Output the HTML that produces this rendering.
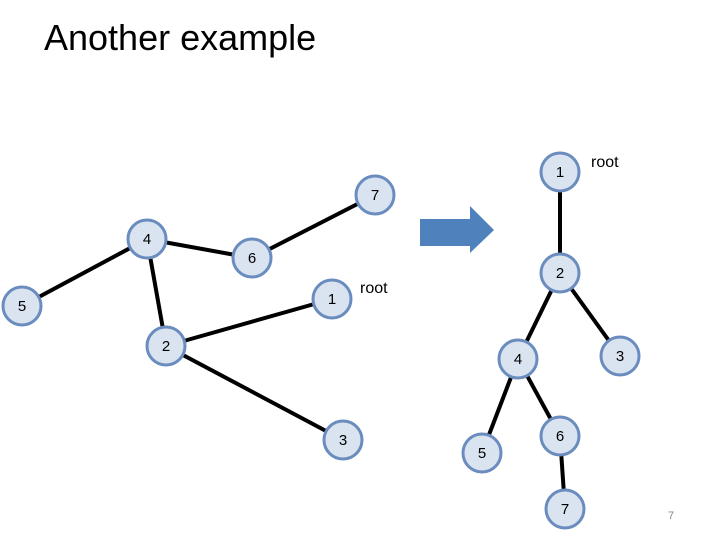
<!DOCTYPE html>
<html><head><style>
body{margin:0;background:#fff;width:720px;height:540px;overflow:hidden}
svg{display:block}
</style></head><body>
<svg width="720" height="540" xmlns="http://www.w3.org/2000/svg" font-family="Liberation Sans, sans-serif">
<text x="44" y="50" font-size="36" fill="#000">Another example</text>
<g stroke="#000" stroke-width="4">
<line x1="22" y1="306" x2="147" y2="239"/>
<line x1="147" y1="239" x2="252" y2="258"/>
<line x1="252" y1="258" x2="375" y2="195"/>
<line x1="147" y1="239" x2="166" y2="346"/>
<line x1="166" y1="346" x2="332" y2="299"/>
<line x1="166" y1="346" x2="343" y2="440"/>
<line x1="560" y1="172" x2="560" y2="273"/>
<line x1="560" y1="273" x2="518" y2="359"/>
<line x1="560" y1="273" x2="620" y2="356"/>
<line x1="518" y1="359" x2="482" y2="453"/>
<line x1="518" y1="359" x2="560" y2="436"/>
<line x1="560" y1="436" x2="565" y2="509"/>
</g>
<g fill="#dae3f0" stroke="#6a8cbe" stroke-width="3">
<circle cx="375" cy="195" r="19"/><circle cx="147" cy="239" r="19"/><circle cx="252" cy="258" r="19"/>
<circle cx="22" cy="306" r="19"/><circle cx="332" cy="299" r="19"/><circle cx="166" cy="346" r="19"/>
<circle cx="343" cy="440" r="19"/>
<circle cx="560" cy="172" r="19"/><circle cx="560" cy="273" r="19"/><circle cx="518" cy="359" r="19"/>
<circle cx="620" cy="356" r="19"/><circle cx="482" cy="453" r="19"/><circle cx="560" cy="436" r="19"/>
<circle cx="565" cy="509" r="19"/>
</g>
<g font-size="15" text-anchor="middle" fill="#000">
<text x="375" y="200">7</text><text x="147" y="244">4</text><text x="252" y="263">6</text>
<text x="22" y="311">5</text><text x="332" y="304">1</text><text x="166" y="351">2</text>
<text x="343" y="445">3</text>
<text x="560" y="177">1</text><text x="560" y="278">2</text><text x="518" y="364">4</text>
<text x="620" y="361">3</text><text x="482" y="458">5</text><text x="560" y="441">6</text>
<text x="565" y="514">7</text>
</g>
<text x="360" y="293" font-size="16">root</text>
<text x="591" y="167" font-size="16">root</text>
<polygon points="420,219 470,219 470,206 494,230 470,253 470,246 420,246" fill="#4f81bd"/>
<text x="668" y="519" font-size="11" fill="#888">7</text>
</svg>
</body></html>
